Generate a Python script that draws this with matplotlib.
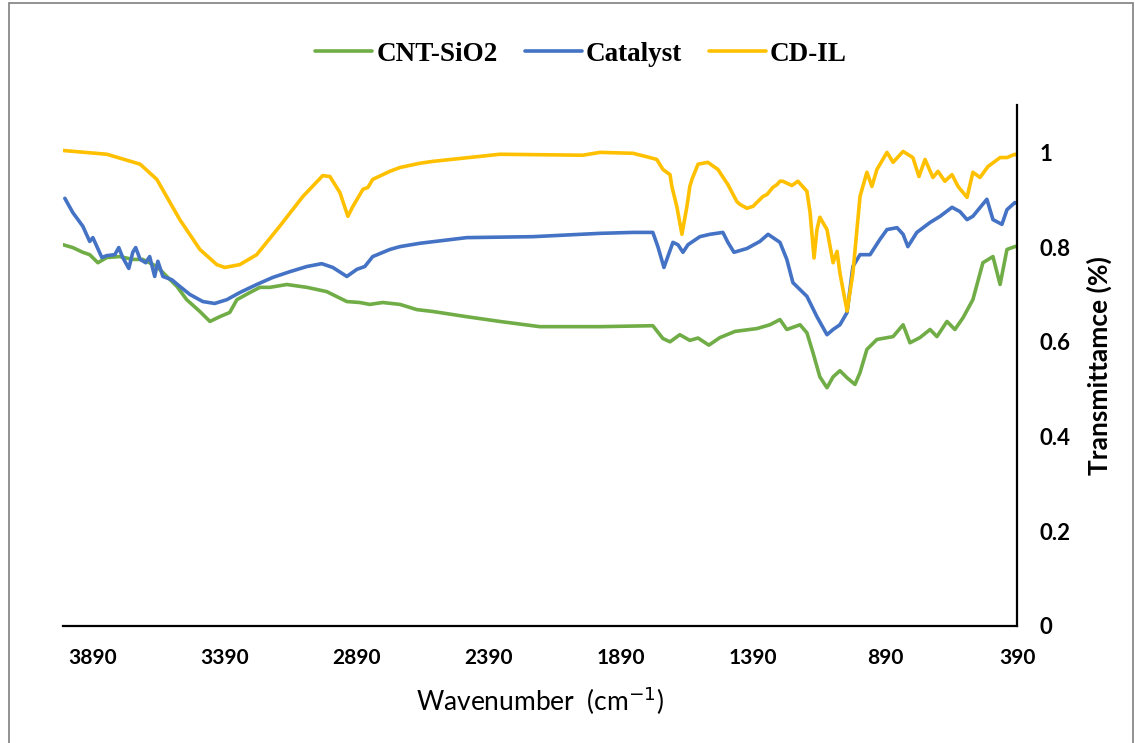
import matplotlib
matplotlib.use("Agg")
import matplotlib.pyplot as plt
from matplotlib.patches import Rectangle
from matplotlib.ticker import FuncFormatter

# FTIR spectra (wavenumber cm-1, transmittance)
wn_cnt = [4000, 3963, 3925, 3899, 3868, 3834, 3785, 3736, 3698, 3645, 3607, 3569, 3532,
          3482, 3444, 3407, 3369, 3342, 3293, 3255, 3217, 3153, 3077, 3002, 2926, 2877,
          2839, 2790, 2725, 2661, 2600, 2472, 2347, 2196, 1968, 1768, 1730, 1703, 1666,
          1628, 1597, 1556, 1514, 1457, 1374, 1325, 1287, 1261, 1211, 1185, 1162, 1136,
          1109, 1086, 1060, 1033, 1003, 984, 958, 920, 859, 821, 795, 757, 719, 693, 655,
          625, 594, 557, 519, 481, 454, 428, 398, 390]
t_cnt = [0.805, 0.799, 0.789, 0.784, 0.767, 0.778, 0.780, 0.774, 0.774, 0.759, 0.738, 0.717,
         0.689, 0.664, 0.643, 0.653, 0.662, 0.689, 0.704, 0.715, 0.715, 0.721, 0.715, 0.706,
         0.685, 0.683, 0.679, 0.683, 0.679, 0.668, 0.664, 0.653, 0.643, 0.632, 0.632, 0.634,
         0.607, 0.600, 0.615, 0.603, 0.608, 0.593, 0.609, 0.622, 0.628, 0.636, 0.647, 0.626,
         0.636, 0.619, 0.577, 0.526, 0.503, 0.526, 0.539, 0.524, 0.510, 0.535, 0.584, 0.605,
         0.611, 0.636, 0.598, 0.609, 0.626, 0.611, 0.643, 0.626, 0.651, 0.689, 0.767, 0.780,
         0.721, 0.795, 0.801, 0.802]

wn_cat = [3993, 3963, 3925, 3899, 3887, 3853, 3834, 3804, 3789, 3774, 3751, 3736, 3725,
          3708, 3687, 3672, 3653, 3641, 3622, 3588, 3558, 3520, 3471, 3426, 3380, 3331,
          3267, 3206, 3142, 3077, 3021, 2979, 2926, 2888, 2858, 2828, 2763, 2725, 2650,
          2472, 2222, 1968, 1843, 1768, 1749, 1726, 1692, 1673, 1654, 1635, 1590, 1552,
          1503, 1484, 1461, 1412, 1363, 1332, 1287, 1261, 1238, 1185, 1147, 1109, 1086,
          1060, 1033, 1011, 984, 946, 909, 882, 844, 821, 803, 769, 719, 681, 636, 606,
          579, 557, 504, 481, 447, 428, 398, 390]
t_cat = [0.903, 0.873, 0.844, 0.812, 0.820, 0.778, 0.782, 0.784, 0.799, 0.778, 0.755, 0.789,
         0.799, 0.774, 0.767, 0.780, 0.738, 0.770, 0.738, 0.731, 0.717, 0.700, 0.685, 0.681,
         0.689, 0.704, 0.721, 0.736, 0.748, 0.759, 0.765, 0.757, 0.738, 0.753, 0.759, 0.780,
         0.795, 0.801, 0.808, 0.820, 0.822, 0.829, 0.831, 0.831, 0.801, 0.757, 0.810, 0.805,
         0.789, 0.805, 0.822, 0.827, 0.831, 0.810, 0.789, 0.797, 0.812, 0.827, 0.810, 0.774,
         0.725, 0.696, 0.653, 0.615, 0.626, 0.636, 0.662, 0.759, 0.784, 0.784, 0.816, 0.837,
         0.841, 0.827, 0.801, 0.831, 0.852, 0.865, 0.884, 0.875, 0.858, 0.865, 0.901, 0.858,
         0.848, 0.879, 0.894, 0.892]

wn_cdil = [4000, 3834, 3708, 3645, 3558, 3482, 3418, 3388, 3331, 3267, 3180, 3092, 3017,
           2990, 2952, 2922, 2903, 2865, 2846, 2828, 2763, 2725, 2650, 2600, 2347, 2033,
           1968, 1843, 1779, 1753, 1730, 1703, 1696, 1677, 1658, 1639, 1628, 1620, 1597,
           1560, 1522, 1484, 1450, 1438, 1412, 1389, 1382, 1351, 1336, 1314, 1298, 1287,
           1276, 1242, 1219, 1185, 1173, 1158, 1147, 1136, 1109, 1086, 1071, 1060, 1033,
           1011, 984, 958, 939, 920, 882, 859, 821, 784, 761, 738, 708, 689, 663, 636, 613,
           579, 557, 530, 500, 454, 428, 398, 390]
t_cdil = [1.004, 0.996, 0.975, 0.943, 0.858, 0.795, 0.763, 0.757, 0.763, 0.784, 0.844, 0.907,
          0.951, 0.949, 0.915, 0.865, 0.886, 0.922, 0.926, 0.943, 0.960, 0.968, 0.977, 0.981,
          0.996, 0.994, 1.000, 0.998, 0.989, 0.985, 0.964, 0.953, 0.928, 0.885, 0.827, 0.886,
          0.928, 0.943, 0.975, 0.979, 0.964, 0.932, 0.896, 0.890, 0.882, 0.886, 0.890, 0.907,
          0.911, 0.926, 0.932, 0.939, 0.939, 0.930, 0.939, 0.918, 0.873, 0.777, 0.837, 0.863,
          0.837, 0.767, 0.791, 0.745, 0.665, 0.745, 0.907, 0.958, 0.928, 0.964, 1.000, 0.979,
          1.002, 0.989, 0.949, 0.985, 0.947, 0.960, 0.939, 0.953, 0.928, 0.905, 0.958, 0.947,
          0.970, 0.989, 0.989, 0.996, 0.994]

xticks = [3890, 3390, 2890, 2390, 1890, 1390, 890, 390]
yticks = [0, 0.2, 0.4, 0.6, 0.8, 1.0]

fig = plt.figure(figsize=(11.35, 7.43), dpi=100)
ax = fig.add_axes([63 / 1135, 117 / 743, 954 / 1135, 521 / 743])

ax.plot(wn_cnt, t_cnt, color="#70AD47", lw=2.6, label="CNT-SiO2", solid_capstyle="round")
ax.plot(wn_cat, t_cat, color="#4472C4", lw=2.6, label="Catalyst", solid_capstyle="round")
ax.plot(wn_cdil, t_cdil, color="#FFC000", lw=2.6, label="CD-IL", solid_capstyle="round")

ax.set_xlim(4000, 390)
ax.set_ylim(0, 1.1)
ax.set_xticks(xticks)
ax.set_yticks(yticks)
ax.yaxis.set_major_formatter(FuncFormatter(lambda v, p: f"{v:g}"))
ax.yaxis.tick_right()
ax.yaxis.set_label_position("right")
ax.tick_params(axis="x", length=0, labelsize=15, pad=16)
ax.tick_params(axis="y", length=0, labelsize=16, pad=16)
for lab in ax.get_xticklabels() + ax.get_yticklabels():
    lab.set_fontfamily("Lato")
    lab.set_fontweight("bold")

for side in ["top", "left"]:
    ax.spines[side].set_visible(False)
for side in ["bottom", "right"]:
    ax.spines[side].set_linewidth(1.6)
    ax.spines[side].set_color("black")

ax.set_xlabel("Wavenumber  (cm$^{-1}$)", fontsize=19, family="Lato", labelpad=12)
ax.set_ylabel("Transmittamce (%)", fontsize=19, family="Lato", fontweight="bold", labelpad=12)

fig.legend(loc="center", bbox_to_anchor=(0.512, 0.927), ncol=3, frameon=False,
           prop={"family": "Liberation Serif", "weight": "bold", "size": 19.5},
           handlelength=2.1, handletextpad=0.15, columnspacing=1.0)

fig.patches.append(Rectangle((9 / 1135, -0.01), 1124 / 1135, 1.0 - 3 / 743 + 0.01,
                             transform=fig.transFigure, fill=False,
                             edgecolor="#7f7f7f", lw=1.2))

fig.savefig("out.png", dpi=100)
